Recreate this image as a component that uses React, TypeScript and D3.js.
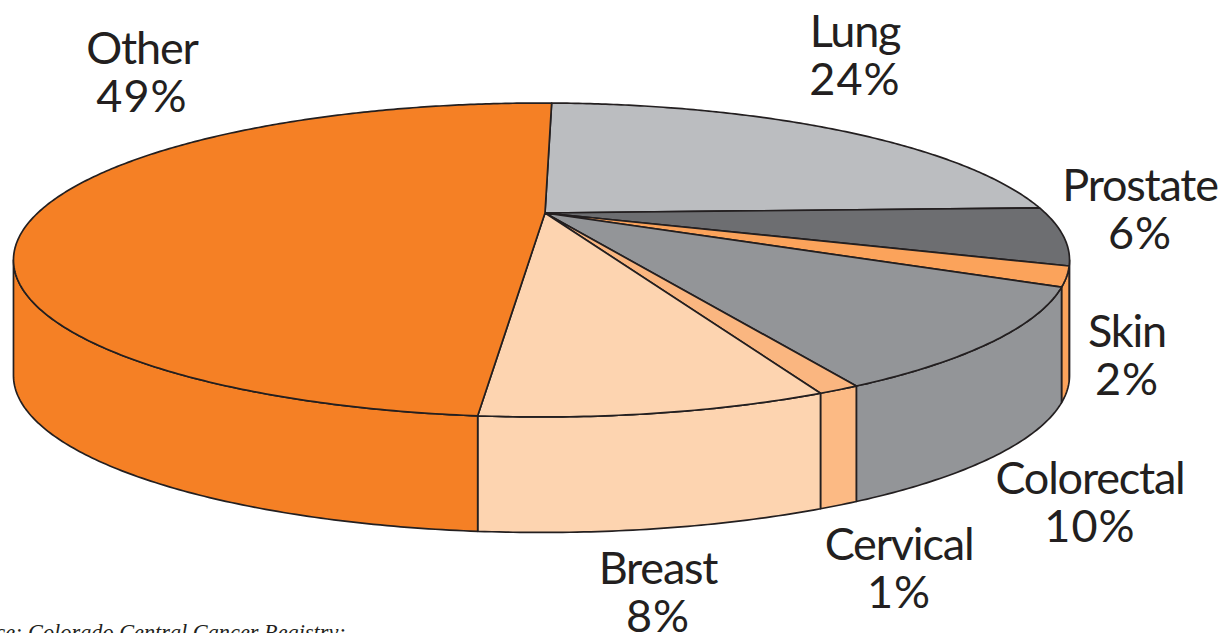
import React from "react";
import * as d3 from "d3";

const categories = ["Lung", "Prostate", "Skin", "Colorectal", "Cervical", "Breast", "Other"];
const shares = [24, 6, 2, 10, 1, 8, 49];
const topColors = ["#BBBDC0", "#6D6E71", "#FBA35B", "#939598", "#FAB680", "#FDD4B0", "#F58025"];
const sideColors = ["#BBBDC0", "#6D6E71", "#FBA35B", "#939598", "#FCBA84", "#FDD4B0", "#F58025"];
const labelX = [855, 1140, 1127, 1090, 899, 658, 142];
const labelY = [47, 201, 347, 494, 560, 584, 64];

const W = 1222, H = 633;
const apexX = 545, apexY = 213, rimX = 541.5;
const A = 503.8, B = 142.9, K = 0.2994, DEPTH = 115.5;
const START = (1.5 * Math.PI) / 180;
// Angles where the outline reaches its left and right extremes: the wall shows only between them.
const WALL_FROM = Math.acos(-K);
const WALL_TO = 2 * Math.PI - WALL_FROM;

// Perspective projection of the pie's ground plane; angle is clockwise from the far side.
function project(angle: number): [number, number] {
  const u = Math.sin(angle), v = Math.cos(angle);
  const w = 1 + K * v;
  return [rimX + (A * u) / w, apexY - (B * v) / w];
}

const arcs = d3.pie<number>().sort(null).startAngle(START).endAngle(START + 2 * Math.PI)(shares);
const line = d3.line();

function rim(a: number, b: number): [number, number][] {
  const n = Math.max(2, Math.ceil(Math.abs(b - a) / 0.01));
  return d3.range(n + 1).map((i) => project(a + ((b - a) * i) / n));
}

export default function App() {
  const font = "Lato, sans-serif";
  return (
    <svg width={W} height={H} viewBox={`0 0 ${W} ${H}`}
      style={{ position: "fixed", left: 0, top: 0, background: "#fff" }}>
      {arcs.map((d, i) => {
        const a = Math.max(d.startAngle, WALL_FROM), b = Math.min(d.endAngle, WALL_TO);
        if (b <= a) return null;
        const top = rim(a, b);
        const bottom = top.map(([x, y]) => [x, y + DEPTH] as [number, number]).reverse();
        return (
          <path key={"s" + i} d={line([...top, ...bottom]) + "Z"} fill={sideColors[i]}
            stroke="#231F20" strokeWidth={1.7} strokeLinejoin="round" />
        );
      })}
      {arcs.map((d, i) => (
        <path key={"t" + i} d={line([[apexX, apexY], ...rim(d.startAngle, d.endAngle)]) + "Z"}
          fill={topColors[i]} stroke="#231F20" strokeWidth={1.7} strokeLinejoin="round" />
      ))}
      {categories.map((c, i) => (
        <text key={c} x={labelX[i]} y={labelY[i]} textAnchor="middle" fontFamily={font}
          fontSize={45} fill="#231F20">
          <tspan x={labelX[i]} letterSpacing={-1.2}>{c}</tspan>
          <tspan x={labelX[i]} dy={48} letterSpacing={1}>{shares[i]}%</tspan>
        </text>
      ))}
      <text x={-46} y={640} fontFamily="'Liberation Serif', serif" fontStyle="italic" fontSize={22.3} fill="#231F20">
        Source: Colorado Central Cancer Registry;
      </text>
    </svg>
  );
}
